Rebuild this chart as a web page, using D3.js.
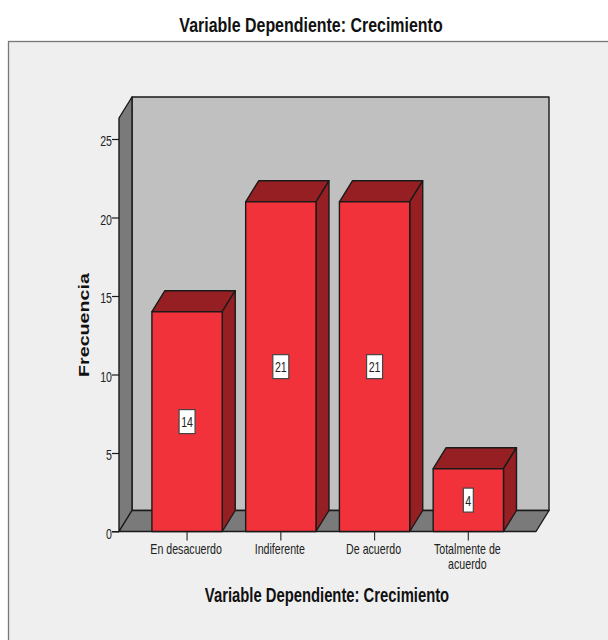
<!DOCTYPE html>
<html>
<head>
<meta charset="utf-8">
<script src="https://cdn.jsdelivr.net/npm/d3@7/dist/d3.min.js"></script>
<style>
  html, body { margin: 0; padding: 0; background: #fff; }
  text { font-family: "Liberation Sans", Arial, sans-serif; }
</style>
</head>
<body>
<div id="chart"></div>
<script>
// Chart values
const categories = ["En desacuerdo", "Indiferente", "De acuerdo", "Totalmente de acuerdo"];
const frequencies = [14, 21, 21, 4];
const yTicks = [0, 5, 10, 15, 20, 25];
const titleText = "Variable Dependiente: Crecimiento";
const yLabel = "Frecuencia";

// Set up dimensions
const width = 608, height = 640;
const depth = {x: 13, y: -21};   // 3d offset of the back wall
const floorX = [119, 536];       // front edge of the floor
const narrow = 0.76;             // no Arial Narrow here, so squeeze the text

const svg = d3.select("#chart").append("svg")
    .attr("width", width)
    .attr("height", height)
    .style("display", "block");

// Scales
const yScale = d3.scaleLinear().domain([0, 25]).range([531.5, 139]);
const xScale = d3.scaleBand().domain(categories).range([140.2, 515.2]).paddingInner(0.25).paddingOuter(0.125);

const yTop = 118;
const yBase = yScale(0);
const lineCol = "#1a1a1a";

// Text placed at x,y and squeezed horizontally
function narrowText(x, y, str, size, bold, fill) {
    return svg.append("text")
        .attr("transform", `translate(${x},${y}) scale(${narrow},1)`)
        .attr("text-anchor", "middle")
        .style("font-size", size + "px")
        .style("font-weight", bold ? "bold" : "normal")
        .attr("fill", fill)
        .text(str);
}

// Outer panel
svg.append("rect").attr("x", 8.5).attr("y", 41.5).attr("width", width).attr("height", height)
    .attr("fill", "#efefef").attr("stroke", "#777").attr("stroke-width", 1.3);

// Title
narrowText(311, 31.5, titleText, 21, true, "#111");

function poly(points, fill) {
    return svg.append("polygon")
        .attr("points", points.map(p => p.join(",")).join(" "))
        .attr("fill", fill)
        .attr("stroke", lineCol)
        .attr("stroke-width", 1.4)
        .attr("stroke-linejoin", "round");
}

// Back wall, side wall, floor
poly([[floorX[0] + depth.x, yTop + depth.y], [floorX[1] + depth.x, yTop + depth.y],
      [floorX[1] + depth.x, yBase + depth.y], [floorX[0] + depth.x, yBase + depth.y]], "#c0c0c0");
poly([[floorX[0], yTop], [floorX[0] + depth.x, yTop + depth.y],
      [floorX[0] + depth.x, yBase + depth.y], [floorX[0], yBase]], "#7a7a7a");
poly([[floorX[0], yBase], [floorX[0] + depth.x, yBase + depth.y],
      [floorX[1] + depth.x, yBase + depth.y], [floorX[1], yBase]], "#7a7a7a");

// Y axis
const yAxis = svg.append("g")
    .attr("transform", `translate(${floorX[0]},0)`)
    .call(d3.axisLeft(yScale).tickValues(yTicks).tickSize(7));
yAxis.select(".domain").remove();
yAxis.selectAll("line").attr("stroke", lineCol).attr("stroke-width", 1.2);
yAxis.selectAll("text")
    .attr("x", 0)
    .attr("dy", null)
    .attr("transform", `translate(-7,6.5) scale(${narrow},1)`)
    .style("font-size", "14px")
    .attr("fill", "#222");

// Y axis label
svg.append("text")
    .attr("transform", "translate(89,325) rotate(-90)")
    .attr("text-anchor", "middle")
    .attr("textLength", 104)
    .attr("lengthAdjust", "spacingAndGlyphs")
    .style("font-size", "14px")
    .style("font-weight", "bold")
    .attr("fill", "#111")
    .text(yLabel);

// X axis
const xAxis = svg.append("g")
    .attr("transform", `translate(0,${yBase})`)
    .call(d3.axisBottom(xScale).tickSize(9).tickSizeOuter(0).tickFormat(""));
xAxis.select(".domain").attr("stroke", lineCol).attr("stroke-width", 1.2)
    .attr("d", `M${floorX[0] - 7},0H${floorX[1]}`);
xAxis.selectAll("line").attr("stroke", "#333").attr("stroke-width", 1.2);

// Category labels, wrapped on the long one
categories.forEach(c => {
    const lines = c === "Totalmente de acuerdo" ? ["Totalmente de", "acuerdo"] : [c];
    lines.forEach((l, i) => {
        narrowText(xScale(c) + xScale.bandwidth() / 2 - 1, 554 + i * 14.5, l, 14, false, "#222");
    });
});

// X axis title
narrowText(327, 601.5, titleText, 19.5, true, "#111");

// Bars
categories.forEach((c, i) => {
    const x0 = xScale(c), x1 = x0 + xScale.bandwidth();
    const y = yScale(frequencies[i]);
    // top
    poly([[x0, y], [x0 + depth.x, y + depth.y], [x1 + depth.x, y + depth.y], [x1, y]], "#961f24");
    // side
    poly([[x1, y], [x1 + depth.x, y + depth.y], [x1 + depth.x, yBase + depth.y], [x1, yBase]], "#961f24");
    // front
    poly([[x0, y], [x1, y], [x1, yBase], [x0, yBase]], "#f2323b");

    // Value label box
    const cx = (x0 + x1) / 2, cy = (y + yBase) / 2;
    const s = String(frequencies[i]);
    const w = s.length > 1 ? 16 : 10;
    svg.append("rect")
        .attr("x", cx - w / 2).attr("y", cy - 12)
        .attr("width", w).attr("height", 24)
        .attr("fill", "#fff").attr("stroke", "#444").attr("stroke-width", 1.2);
    narrowText(cx, cy + 5.5, s, 14, false, "#222");
});
</script>
</body>
</html>
